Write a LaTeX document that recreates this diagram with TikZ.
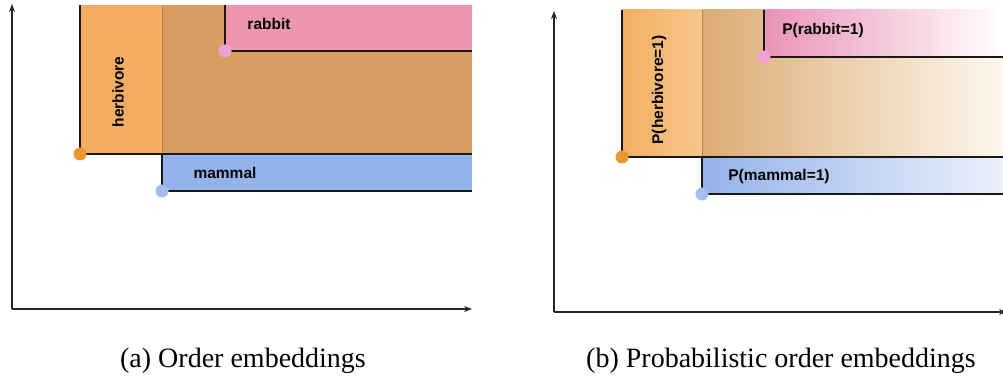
\documentclass[tikz,border=0pt]{standalone}
\usepackage{fontspec}
\setmainfont{Liberation Serif}
\newfontfamily\labelfont{Liberation Sans}
\usetikzlibrary{arrows.meta}
\definecolor{herbc}{HTML}{F3AD63}
\definecolor{overc}{HTML}{D99D62}
\definecolor{rabbc}{HTML}{EC97AE}
\definecolor{mammc}{HTML}{94B3EA}
\definecolor{seamc}{HTML}{B98450}
\definecolor{herbl}{HTML}{F4AF62}
\definecolor{herbr}{HTML}{F7C68B}
\definecolor{overl}{HTML}{DCAB74}
\definecolor{overr}{HTML}{FDF7EE}
\definecolor{rabbl}{HTML}{EA93B6}
\definecolor{mammr}{HTML}{EBF0FB}
\definecolor{dotherb}{HTML}{F0952F}
\definecolor{dotrabb}{HTML}{EFA0D6}
\definecolor{dotmamm}{HTML}{A3BDEC}
\begin{document}
\begin{tikzpicture}[x=1pt,y=1pt,>={Stealth[length=8pt,width=6pt]},
	axisline/.style={line width=1.2pt,color=black!85},
	boxedge/.style={line width=1.3pt,color=black!90},
	seam/.style={line width=0.6pt,color=seamc},
	lab/.style={font=\labelfont\bfseries\fontsize{15.5}{18}\selectfont,text=black},
	captext/.style={font=\fontsize{28}{32}\selectfont,anchor=base}]
	\useasboundingbox (0,0) rectangle (1003,377);
	% (a) order embeddings
	\fill[herbc] (80,223) rectangle (472,372);
	\fill[overc] (162,223) rectangle (472,372);
	\fill[mammc] (162,186) rectangle (472,223);
	\fill[rabbc] (225,326) rectangle (472,372);
	\draw[seam] (162,223)--(162,372);
	\coordinate (herba) at (80,223);
	\coordinate (mamma) at (162,186);
	\coordinate (rabba) at (225,326);
	\draw[boxedge] (80,372)--(herba)--(472,223);
	\draw[boxedge] (162,223)--(mamma)--(472,186);
	\draw[boxedge] (225,372)--(rabba)--(472,326);
	\fill[dotherb] (herba) circle(6.5);
	\fill[dotmamm] (mamma) circle(6.5);
	\fill[dotrabb] (rabba) circle(6.5);
	\node[lab] (lrabba) at (269,353) {rabbit};
	\node[lab,rotate=90] (lherba) at (118,285) {herbivore};
	\node[lab] (lmamma) at (225,204) {mammal};
	\coordinate (oa) at (12,68);
	\coordinate (ya) at (12,373);
	\coordinate (xa) at (472,68);
	\draw[axisline,->] (oa)--(ya);
	\draw[axisline,->] (oa)--(xa);
	\node[captext] (capa) at (243,9.5) {(a) Order embeddings};
	% (b) probabilistic order embeddings
	\shade[left color=herbl,right color=herbr] (622,220) rectangle (702,367);
	\shade[left color=overl,right color=overr] (702,220) rectangle (1003,367);
	\shade[left color=mammc,right color=mammr] (702,183) rectangle (1003,220);
	\shade[left color=rabbl,right color=white] (764,320) rectangle (1003,367);
	\draw[seam] (702,220)--(702,367);
	\coordinate (herbb) at (622,220);
	\coordinate (mammb) at (702,183);
	\coordinate (rabbb) at (764,320);
	\draw[boxedge] (622,367)--(herbb)--(1003,220);
	\draw[boxedge] (702,220)--(mammb)--(1003,183);
	\draw[boxedge] (764,367)--(rabbb)--(1003,320);
	\fill[dotherb] (herbb) circle(6.5);
	\fill[dotmamm] (mammb) circle(6.5);
	\fill[dotrabb] (rabbb) circle(6.5);
	\node[lab] (lrabbb) at (823,347) {P(rabbit=1)};
	\node[lab,rotate=90] (lherbb) at (659,287) {P(herbivore=1)};
	\node[lab] (lmammb) at (779,201) {P(mammal=1)};
	\coordinate (ob) at (554,65);
	\coordinate (yb) at (554,366);
	\coordinate (xb) at (1007,65);
	\draw[axisline,->] (ob)--(yb);
	\draw[axisline,->] (ob)--(xb);
	\node[captext] (capb) at (781,9.5) {(b) Probabilistic order embeddings};
\end{tikzpicture}
\end{document}
